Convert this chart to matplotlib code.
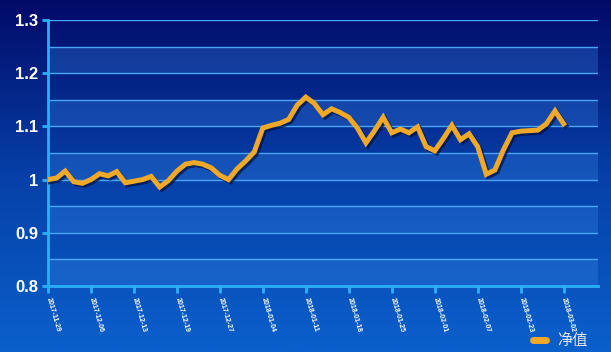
import numpy as np
import matplotlib
matplotlib.use("Agg")
import matplotlib.pyplot as plt
import matplotlib.patheffects as pe
from matplotlib.colors import LinearSegmentedColormap

plt.rcParams['font.family'] = ['Liberation Sans', 'Noto Sans CJK SC', 'DejaVu Sans']

# net value, one point per trading day
nav = [1.000, 1.003, 1.016, 0.996, 0.993, 1.000, 1.011, 1.007, 1.015, 0.994,
       0.997, 1.000, 1.006, 0.986, 0.998, 1.016, 1.029, 1.032, 1.029, 1.022,
       1.008, 1.000, 1.020, 1.035, 1.052, 1.097, 1.102, 1.106, 1.113, 1.140,
       1.155, 1.143, 1.122, 1.133, 1.126, 1.117, 1.097, 1.069, 1.092, 1.117,
       1.088, 1.095, 1.088, 1.099, 1.062, 1.054, 1.077, 1.102, 1.075, 1.086,
       1.062, 1.010, 1.018, 1.056, 1.088, 1.091, 1.092, 1.093, 1.105, 1.129,
       1.105]
date_labels = ['2017-11-29', '2017-12-06', '2017-12-13', '2017-12-19', '2017-12-27',
               '2018-01-04', '2018-01-11', '2018-01-18', '2018-01-25', '2018-02-01',
               '2018-02-07', '2018-02-23', '2018-03-02']
y_ticks = [0.8, 0.9, 1.0, 1.1, 1.2, 1.3]
y_labels = ['0.8', '0.9', '1', '1.1', '1.2', '1.3']
series_name = '净值'

fig = plt.figure(figsize=(6.11, 3.52), dpi=100)

# gradient background
bg = fig.add_axes([0, 0, 1, 1])
cmap = LinearSegmentedColormap.from_list('bg', ['#020a68', '#0640a8', '#0b60cc'])
grad = np.linspace(0, 1, 256).reshape(-1, 1)
bg.imshow(grad, aspect='auto', cmap=cmap, extent=[0, 1, 0, 1], origin='upper')
bg.set_axis_off()

ax = fig.add_axes([48/611, 1-286/352, 550/611, 266/352])
ax.patch.set_alpha(0)

# alternating bands
for lo in np.arange(0.8, 1.3, 0.1):
    ax.axhspan(lo, lo + 0.05, color='#3a88e8', alpha=0.3, lw=0, zorder=0)
for y in np.arange(0.85, 1.31, 0.05):
    ax.axhline(y, color='#4aa6f4', lw=1.0, zorder=1)

x = np.arange(len(nav))
ax.plot(x, nav, color='#f0a828', lw=3.6, solid_joinstyle='miter', zorder=3,
        label=series_name,
        path_effects=[pe.SimpleLineShadow(offset=(1.5, -1.5), shadow_color='#001040', alpha=0.7),
                      pe.Normal()])

ax.set_xlim(0, 64)
ax.set_ylim(0.8, 1.3)
ax.set_yticks(y_ticks)
ax.set_yticklabels(y_labels, fontsize=12, fontweight='bold', color='white')
ax.set_xticks(np.arange(0, len(nav), 5))
ax.set_xticklabels(date_labels, fontsize=5.0, fontweight='bold', color='white',
                   rotation=-74, ha='left', va='center', rotation_mode='anchor')

for s in ['top', 'right']:
    ax.spines[s].set_visible(False)
for s in ['left', 'bottom']:
    ax.spines[s].set_color('#2ab0f8')
    ax.spines[s].set_linewidth(2)
ax.tick_params(axis='y', colors='#2ab0f8', length=4, width=2, pad=3, labelcolor='white')
ax.tick_params(axis='x', colors='#2ab0f8', length=5, width=2, pad=3, labelcolor='white')

leg = ax.legend(loc='center', bbox_to_anchor=(560/611, 1-341/352), bbox_transform=fig.transFigure,
                frameon=False, handlelength=0.9, handletextpad=0.7, fontsize=11)
for t in leg.get_texts():
    t.set_color('#e0e6f0')
for h in leg.get_lines():
    h.set_linewidth(5)
    h.set_solid_capstyle('round')
    h.set_path_effects([])

fig.savefig('out.png', dpi=100)
